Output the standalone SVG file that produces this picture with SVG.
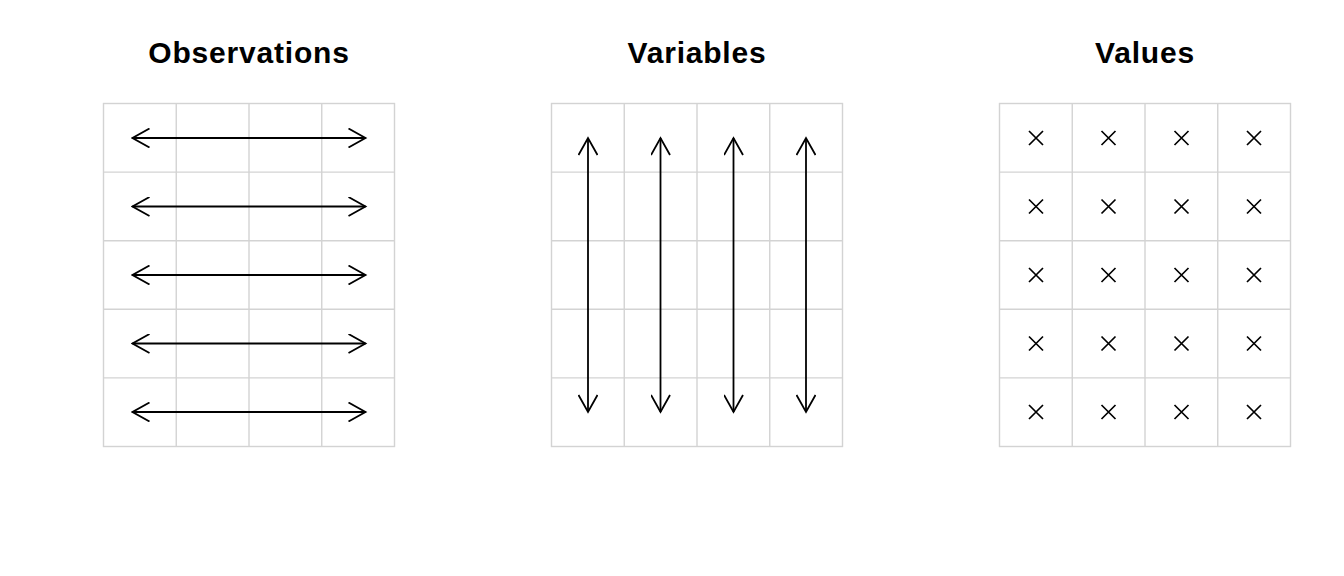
<svg xmlns="http://www.w3.org/2000/svg" width="1344" height="576" viewBox="0 0 1344 576">
<style>
.title{font-family:"Liberation Sans",Arial,sans-serif;font-weight:bold;font-size:30px;letter-spacing:0.8px;fill:#000;text-anchor:middle}
.grid{fill:none;stroke:#d3d3d3;stroke-width:1.4}
.conn{fill:none;stroke:#000;stroke-width:1.8}
.x{fill:none;stroke:#000;stroke-width:1.7}
</style>
<defs>
<marker id="ah" viewBox="-18 -10 20 20" markerWidth="20" markerHeight="20" refX="0" refY="0" orient="auto-start-reverse" markerUnits="userSpaceOnUse">
<path d="M-17,-9.5 L0,0 L-17,9.5" fill="none" stroke="#000" stroke-width="1.8"/>
</marker>
<g id="gridpat">
<rect x="0" y="0" width="291" height="343" class="grid"/>
<path class="grid" d="M72.75,0V343M145.5,0V343M218.25,0V343M0,68.6H291M0,137.2H291M0,205.8H291M0,274.4H291"/>
</g>
<path id="xm" d="M-7,-7L7,7M-7,7L7,-7" class="x"/>
</defs>
<g id="observations">
<text class="title" x="249" y="63">Observations</text>
<use href="#gridpat" x="103.5" y="103.5"/>
</g>
<g id="variables">
<text class="title" x="697" y="63">Variables</text>
<use href="#gridpat" x="551.5" y="103.5"/>
</g>
<g id="values">
<text class="title" x="1145" y="63">Values</text>
<use href="#gridpat" x="999.5" y="103.5"/>
<g>
<use href="#xm" x="1036" y="138"/><use href="#xm" x="1108.5" y="138"/><use href="#xm" x="1181.5" y="138"/><use href="#xm" x="1254" y="138"/>
<use href="#xm" x="1036" y="206.5"/><use href="#xm" x="1108.5" y="206.5"/><use href="#xm" x="1181.5" y="206.5"/><use href="#xm" x="1254" y="206.5"/>
<use href="#xm" x="1036" y="275"/><use href="#xm" x="1108.5" y="275"/><use href="#xm" x="1181.5" y="275"/><use href="#xm" x="1254" y="275"/>
<use href="#xm" x="1036" y="343.5"/><use href="#xm" x="1108.5" y="343.5"/><use href="#xm" x="1181.5" y="343.5"/><use href="#xm" x="1254" y="343.5"/>
<use href="#xm" x="1036" y="412"/><use href="#xm" x="1108.5" y="412"/><use href="#xm" x="1181.5" y="412"/><use href="#xm" x="1254" y="412"/>
</g>
</g>
<g id="connectors">
<path class="conn" marker-start="url(#ah)" marker-end="url(#ah)" d="M132.5,138H365.5"/>
<path class="conn" marker-start="url(#ah)" marker-end="url(#ah)" d="M132.5,206.5H365.5"/>
<path class="conn" marker-start="url(#ah)" marker-end="url(#ah)" d="M132.5,275H365.5"/>
<path class="conn" marker-start="url(#ah)" marker-end="url(#ah)" d="M132.5,343.5H365.5"/>
<path class="conn" marker-start="url(#ah)" marker-end="url(#ah)" d="M132.5,412H365.5"/>
<path class="conn" marker-start="url(#ah)" marker-end="url(#ah)" d="M588,138V412"/>
<path class="conn" marker-start="url(#ah)" marker-end="url(#ah)" d="M660.5,138V412"/>
<path class="conn" marker-start="url(#ah)" marker-end="url(#ah)" d="M733.5,138V412"/>
<path class="conn" marker-start="url(#ah)" marker-end="url(#ah)" d="M806,138V412"/>
</g>
</svg>
